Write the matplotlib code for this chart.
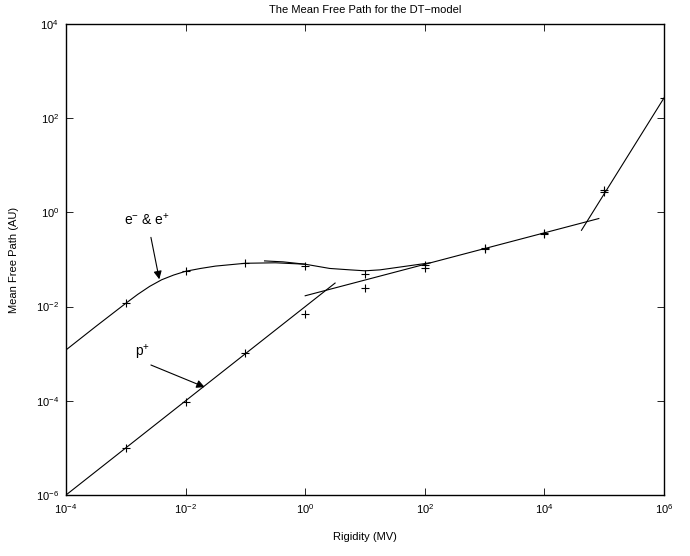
import numpy as np
import matplotlib
matplotlib.use("Agg")
import matplotlib.pyplot as plt
from matplotlib.ticker import FixedLocator, NullLocator

plt.rcParams['font.family'] = ['Liberation Sans', 'DejaVu Sans']
plt.rcParams['mathtext.fontset'] = 'custom'
plt.rcParams['mathtext.rm'] = 'Liberation Sans'
plt.rcParams['mathtext.it'] = 'Liberation Sans'
plt.rcParams['font.size'] = 8

# exponents (log10)
# electron model curve, low rigidity part
e_low_x = [-4, -3.5, -3, -2.8, -2.6, -2.4, -2.2, -2, -1.75, -1.5, -1, -0.5, 0]
e_low_y = [-2.92, -2.42, -1.93, -1.74, -1.57, -1.43, -1.33, -1.25, -1.19, -1.14, -1.08, -1.07, -1.10]
# electron model curve, second piece
e_high_x = [-0.68, -0.37, 0.0, 0.41, 0.75, 1.0, 1.25, 1.53, 1.81, 2.09]
e_high_y = [-1.03, -1.05, -1.10, -1.19, -1.22, -1.24, -1.22, -1.17, -1.12, -1.07]
# proton fits
p_low_x = [-4, 0.5]
p_low_y = [-6, -1.5]
p_high_x = [0, 4.91]
p_high_y = [-1.77, -0.13]
steep_x = [4.62, 6.0]
steep_y = [-0.38, 2.43]
# data points
e_pts_x = [-3, -2, -1, 0, 1, 2, 3, 4, 5]
e_pts_y = [-1.93, -1.24, -1.08, -1.14, -1.31, -1.12, -0.76, -0.43, 0.47]
p_pts_x = [-3, -2, -1, 0, 1, 2, 3, 4, 5, 6]
p_pts_y = [-5.0, -4.02, -2.99, -2.16, -1.60, -1.18, -0.78, -0.46, 0.44, 2.43]

xticks = [1e-4, 1e-2, 1e0, 1e2, 1e4, 1e6]
yticks = [1e-6, 1e-4, 1e-2, 1e0, 1e2, 1e4]


def p10(a):
    return np.power(10.0, a)


fig = plt.figure(figsize=(6.9, 5.56), dpi=100)
ax = fig.add_axes([66 / 690, 61 / 556, 598 / 690, 471 / 556])

lw = 0.8
for xs, ys in [(e_low_x, e_low_y), (e_high_x, e_high_y), (p_low_x, p_low_y),
               (p_high_x, p_high_y), (steep_x, steep_y)]:
    ax.plot(p10(xs), p10(ys), color='k', lw=lw)

ax.plot(p10(e_pts_x), p10(e_pts_y), ls='none', marker='+', ms=6, mew=0.8, color='k')
ax.plot(p10(p_pts_x), p10(p_pts_y), ls='none', marker='+', ms=6, mew=0.8, color='k')

ax.set_xscale('log')
ax.set_yscale('log')
ax.set_xlim(1e-4, 1e6)
ax.set_ylim(1e-6, 1e4)
ax.xaxis.set_major_locator(FixedLocator(xticks))
ax.yaxis.set_major_locator(FixedLocator(yticks))
ax.xaxis.set_minor_locator(NullLocator())
ax.yaxis.set_minor_locator(NullLocator())
ax.tick_params(which='major', direction='in', length=5, width=0.6,
               top=True, right=True, labelsize=8, pad=5)
for s in ax.spines.values():
    s.set_linewidth(1.0)

ax.set_title('The Mean Free Path for the DT\u2212model', fontsize=8, pad=8)
ax.set_xlabel('Rigidity (MV)', fontsize=8, labelpad=12)
ax.set_ylabel('Mean Free Path (AU)', fontsize=8, labelpad=12)

arrow = dict(arrowstyle='-|>', color='k', lw=0.8, mutation_scale=12, shrinkA=0, shrinkB=0)
ax.annotate('', xy=(p10(-2.44), p10(-1.42)), xytext=(p10(-2.58), p10(-0.53)),
            arrowprops=arrow)
ax.text(p10(-3.03), p10(-0.16), r'e$^{-}$ & e$^{+}$', fontsize=10, ha='left', va='center')
ax.annotate('', xy=(p10(-1.68), p10(-3.71)), xytext=(p10(-2.58), p10(-3.24)),
            arrowprops=arrow)
ax.text(p10(-2.84), p10(-2.98), r'p$^{+}$', fontsize=10, ha='left', va='center')

fig.savefig('out.png', dpi=100)
